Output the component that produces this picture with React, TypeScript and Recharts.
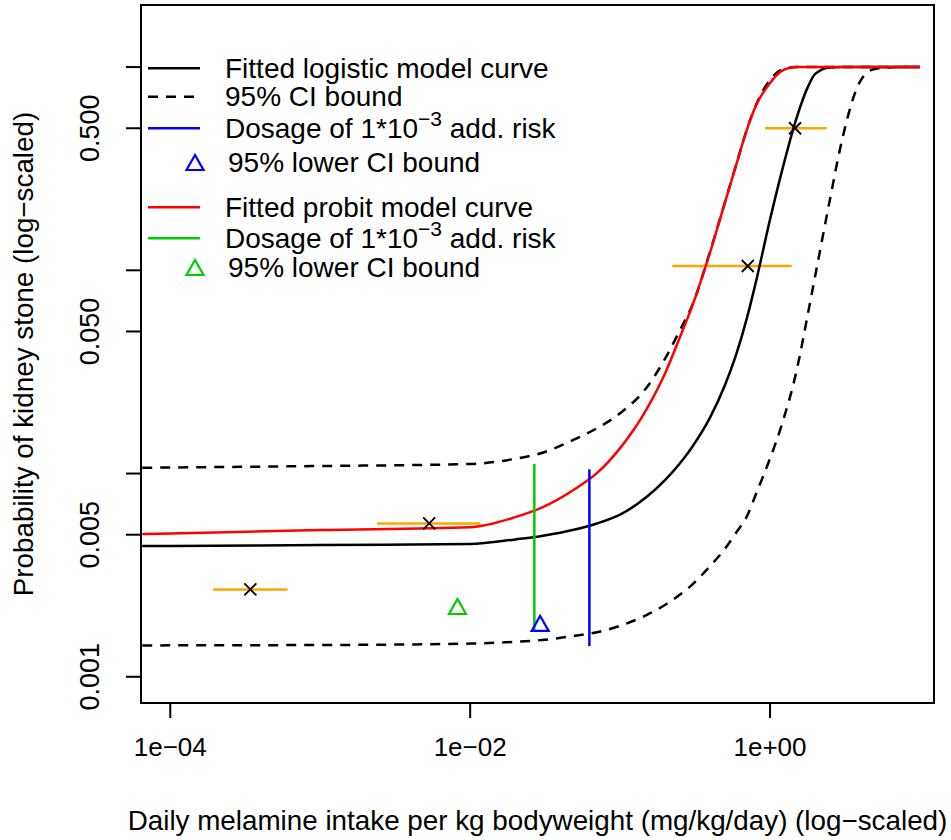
import React from "react";
import {
  ComposedChart,
  Line,
  Scatter,
  XAxis,
  YAxis,
  ReferenceLine,
  ReferenceArea,
  Label,
} from "recharts";

// dose grid (mg/kg/day) used for the fitted curves
const doses = [
  6.5e-5, 1e-4, 1e-3, 1e-2, 0.02, 0.03, 0.05, 0.07, 0.1, 0.15, 0.2, 0.25, 0.3,
  0.4, 0.5, 0.6, 0.7, 0.8, 1, 1.2, 1.5, 1.8, 2, 2.5, 3, 4, 5, 7, 10,
];
const logisticFit = [
  0.0044, 0.0044, 0.00445, 0.0045, 0.00474, 0.00493, 0.0053, 0.00568, 0.00628,
  0.00766, 0.0093, 0.0112, 0.0134, 0.019, 0.0272, 0.0393, 0.058, 0.086,
  0.178, 0.3078, 0.5593, 0.8078, 0.925, 0.996, 1, 1, 1, 1, 1,
];
const logisticUpper = [
  0.01068, 0.01071, 0.01089, 0.01114, 0.01182, 0.01262, 0.01476, 0.0167,
  0.01979, 0.02645, 0.03686, 0.05057, 0.06615, 0.125, 0.216, 0.338, 0.492,
  0.642, 0.864, 0.973, 1, 1, 1, 1, 1, 1, 1, 1, 1,
];
const logisticLower = [
  0.001425, 0.001428, 0.001433, 0.001457, 0.001486, 0.001516, 0.001592,
  0.001656, 0.001783, 0.002011, 0.002262, 0.00253, 0.002825, 0.003516,
  0.004262, 0.005172, 0.006146, 0.007815, 0.01187, 0.01747, 0.03185, 0.06262,
  0.09378, 0.2202, 0.428, 0.8535, 0.979, 1, 1,
];
const probitFit = [
  0.00504, 0.00507, 0.00527, 0.00544, 0.0061, 0.00679, 0.00839, 0.01004,
  0.01334, 0.02071, 0.03124, 0.0467, 0.0655, 0.124, 0.2152, 0.3374, 0.4905,
  0.639, 0.835, 0.957, 1, 1, 1, 1, 1, 1, 1, 1, 1,
];

// observed dose groups
const obsDose = [3.42e-4, 5.33e-3, 0.71, 1.468];
const obsRate = [0.00269, 0.00568, 0.105, 0.5];
const obsDoseLow = [1.93e-4, 2.39e-3, 0.223, 0.926];
const obsDoseHigh = [6.05e-4, 1.17e-2, 1.395, 2.388];

// benchmark dose (1e-3 added risk) and its lower bound: logistic, probit
const bmdDose = [0.0624, 0.0268];
const bmdTop = [0.01049, 0.01114];
const bmdBottom = [0.001416, 0.001698];
const bmdlDose = [0.0293, 0.00823];
const bmdlRate = [0.0018, 0.00218];

const xTicks = [1e-4, 1e-2, 1];
const xTickLabels = ["1e\u221204", "1e\u221202", "1e+00"];
const yTicks = [0.001, 0.005, 0.01, 0.05, 0.1, 0.5, 1];
const yTickLabels = ["0.001", "0.005", "", "0.050", "", "0.500", ""];

const xTitle = "Daily melamine intake per kg bodyweight (mg/kg/day) (log\u2212scaled)";
const yTitle = "Probability of kidney stone (log\u2212scaled)";

const FONT = '"Liberation Sans", Arial, sans-serif';
const FS = 26;
const GREEN = "#00CD00";
const X_DOMAIN = [6.38e-5, 12.4];
const Y_DOMAIN = [7.43e-4, 2.02];

const curve = (ys: number[]) => doses.map((x, i) => ({ x, y: ys[i] }));
const findIdx = (arr: number[], v: number) =>
  arr.findIndex((t) => Math.abs(t - v) / t < 1e-6);

const YTick = (props: any) => {
  const { y, payload } = props;
  const label = yTickLabels[findIdx(yTicks, payload.value)];
  if (!label) return null;
  return (
    <text
      x={90}
      y={y}
      transform={`rotate(-90, 90, ${y})`}
      textAnchor="middle"
      dominantBaseline="central"
      fontSize={27}
      fontFamily={FONT}
      fill="#000"
    >
      {label}
    </text>
  );
};

const Cross = (props: any) => {
  const { cx, cy } = props;
  const r = 6;
  return (
    <g stroke="#000" strokeWidth={1.8}>
      <line x1={cx - r} y1={cy - r} x2={cx + r} y2={cy + r} />
      <line x1={cx - r} y1={cy + r} x2={cx + r} y2={cy - r} />
    </g>
  );
};

const triPoints = (cx: number, cy: number) =>
  `${cx},${cy - 9} ${cx - 8.5},${cy + 6} ${cx + 8.5},${cy + 6}`;

const makeTriangle = (color: string) => (props: any) => (
  <polygon
    points={triPoints(props.cx, props.cy)}
    fill="none"
    stroke={color}
    strokeWidth={2.2}
  />
);

const legendItems = [
  { kind: "line", color: "#000", dash: "", y: 68.3, text: "Fitted logistic model curve" },
  { kind: "line", color: "#000", dash: "10 8", y: 96.7, text: "95% CI bound" },
  { kind: "line", color: "#0000FF", dash: "", y: 128.3, text: "dose" },
  { kind: "tri", color: "#0000FF", dash: "", y: 162.5, text: "95% lower CI bound" },
  { kind: "line", color: "#FF0000", dash: "", y: 207.3, text: "Fitted probit model curve" },
  { kind: "line", color: GREEN, dash: "", y: 238.3, text: "dose" },
  { kind: "tri", color: GREEN, dash: "", y: 267.5, text: "95% lower CI bound" },
];

function LegendOverlay() {
  const LFS = 28;
  return (
    <svg
      width={951}
      height={840}
      style={{ position: "absolute", left: 0, top: 0, pointerEvents: "none" }}
    >
      {legendItems.map((it, i) => (
        <g key={i}>
          {it.kind === "line" ? (
            <line
              x1={148}
              x2={200}
              y1={it.y}
              y2={it.y}
              stroke={it.color}
              strokeWidth={2.5}
              strokeDasharray={it.dash || undefined}
            />
          ) : (
            <polygon
              points={triPoints(195, it.y + 1.5)}
              fill="none"
              stroke={it.color}
              strokeWidth={2.2}
            />
          )}
          <text
            x={it.kind === "tri" ? 228 : 225}
            y={it.y + 9.5}
            fontSize={LFS}
            fontFamily={FONT}
            fill="#000"
          >
            {it.text === "dose" ? (
              <>
                Dosage of 1*10
                <tspan dy={-12} fontSize={21}>
                  {"\u22123"}
                </tspan>
                <tspan dy={12}> add. risk</tspan>
              </>
            ) : (
              it.text
            )}
          </text>
        </g>
      ))}
    </svg>
  );
}

export default function App() {
  return (
    <div
      style={{
        position: "absolute",
        left: 0,
        top: 0,
        width: 951,
        height: 840,
        background: "#fff",
      }}
    >
      <ComposedChart
        width={951}
        height={840}
        margin={{ top: 5, right: 17, bottom: 0, left: 0 }}
      >
        <XAxis
          type="number"
          dataKey="x"
          scale="log"
          domain={X_DOMAIN}
          allowDataOverflow
          ticks={xTicks}
          interval={0}
          tickFormatter={(v: number) => xTickLabels[findIdx(xTicks, v)]}
          axisLine={false}
          tickLine={{ stroke: "#000", strokeWidth: 2 }}
          tickSize={15}
          tickMargin={20}
          height={137}
          tick={{ fill: "#000", fontSize: FS, fontFamily: FONT }}
        >
          <Label
            value={xTitle}
            position="insideBottom"
            offset={10}
            style={{ fontSize: 27.8, fontFamily: FONT, fill: "#000" }}
          />
        </XAxis>
        <YAxis
          type="number"
          dataKey="y"
          scale="log"
          domain={Y_DOMAIN}
          allowDataOverflow
          ticks={yTicks}
          interval={0}
          axisLine={false}
          tickLine={{ stroke: "#000", strokeWidth: 2 }}
          tickSize={15}
          width={141}
          tick={<YTick />}
        >
          <Label
            value={yTitle}
            angle={-90}
            position="insideLeft"
            offset={23}
            style={{
              fontSize: 27.8,
              fontFamily: FONT,
              fill: "#000",
              textAnchor: "middle",
            }}
          />
        </YAxis>

        {obsDose.map((d, i) => (
          <ReferenceLine
            key={"bar" + i}
            segment={[
              { x: obsDoseLow[i], y: obsRate[i] },
              { x: obsDoseHigh[i], y: obsRate[i] },
            ]}
            stroke="#FFA500"
            strokeWidth={2.5}
          />
        ))}

        <Line
          data={curve(logisticUpper)}
          dataKey="y"
          type="monotone"
          stroke="#000"
          strokeWidth={2.5}
          strokeDasharray="10 8"
          dot={false}
          activeDot={false}
          isAnimationActive={false}
        />
        <Line
          data={curve(logisticLower)}
          dataKey="y"
          type="monotone"
          stroke="#000"
          strokeWidth={2.5}
          strokeDasharray="10 8"
          dot={false}
          activeDot={false}
          isAnimationActive={false}
        />
        <Line
          data={curve(logisticFit)}
          dataKey="y"
          type="monotone"
          stroke="#000"
          strokeWidth={2.5}
          dot={false}
          activeDot={false}
          isAnimationActive={false}
        />
        <Line
          data={curve(probitFit)}
          dataKey="y"
          type="monotone"
          stroke="#FF0000"
          strokeWidth={2.5}
          dot={false}
          activeDot={false}
          isAnimationActive={false}
        />

        <ReferenceLine
          segment={[
            { x: bmdDose[0], y: bmdBottom[0] },
            { x: bmdDose[0], y: bmdTop[0] },
          ]}
          stroke="#0000FF"
          strokeWidth={2.5}
        />
        <ReferenceLine
          segment={[
            { x: bmdDose[1], y: bmdBottom[1] },
            { x: bmdDose[1], y: bmdTop[1] },
          ]}
          stroke={GREEN}
          strokeWidth={2.5}
        />

        <Scatter
          data={obsDose.map((x, i) => ({ x, y: obsRate[i] }))}
          dataKey="y"
          shape={<Cross />}
          isAnimationActive={false}
        />
        <Scatter
          data={[{ x: bmdlDose[0], y: bmdlRate[0] }]}
          dataKey="y"
          shape={makeTriangle("#0000FF")}
          isAnimationActive={false}
        />
        <Scatter
          data={[{ x: bmdlDose[1], y: bmdlRate[1] }]}
          dataKey="y"
          shape={makeTriangle(GREEN)}
          isAnimationActive={false}
        />

        <ReferenceArea
          x1={X_DOMAIN[0]}
          x2={X_DOMAIN[1]}
          y1={Y_DOMAIN[0]}
          y2={Y_DOMAIN[1]}
          fill="none"
          stroke="#000"
          strokeWidth={2}
          ifOverflow="visible"
        />
      </ComposedChart>
      <LegendOverlay />
    </div>
  );
}
